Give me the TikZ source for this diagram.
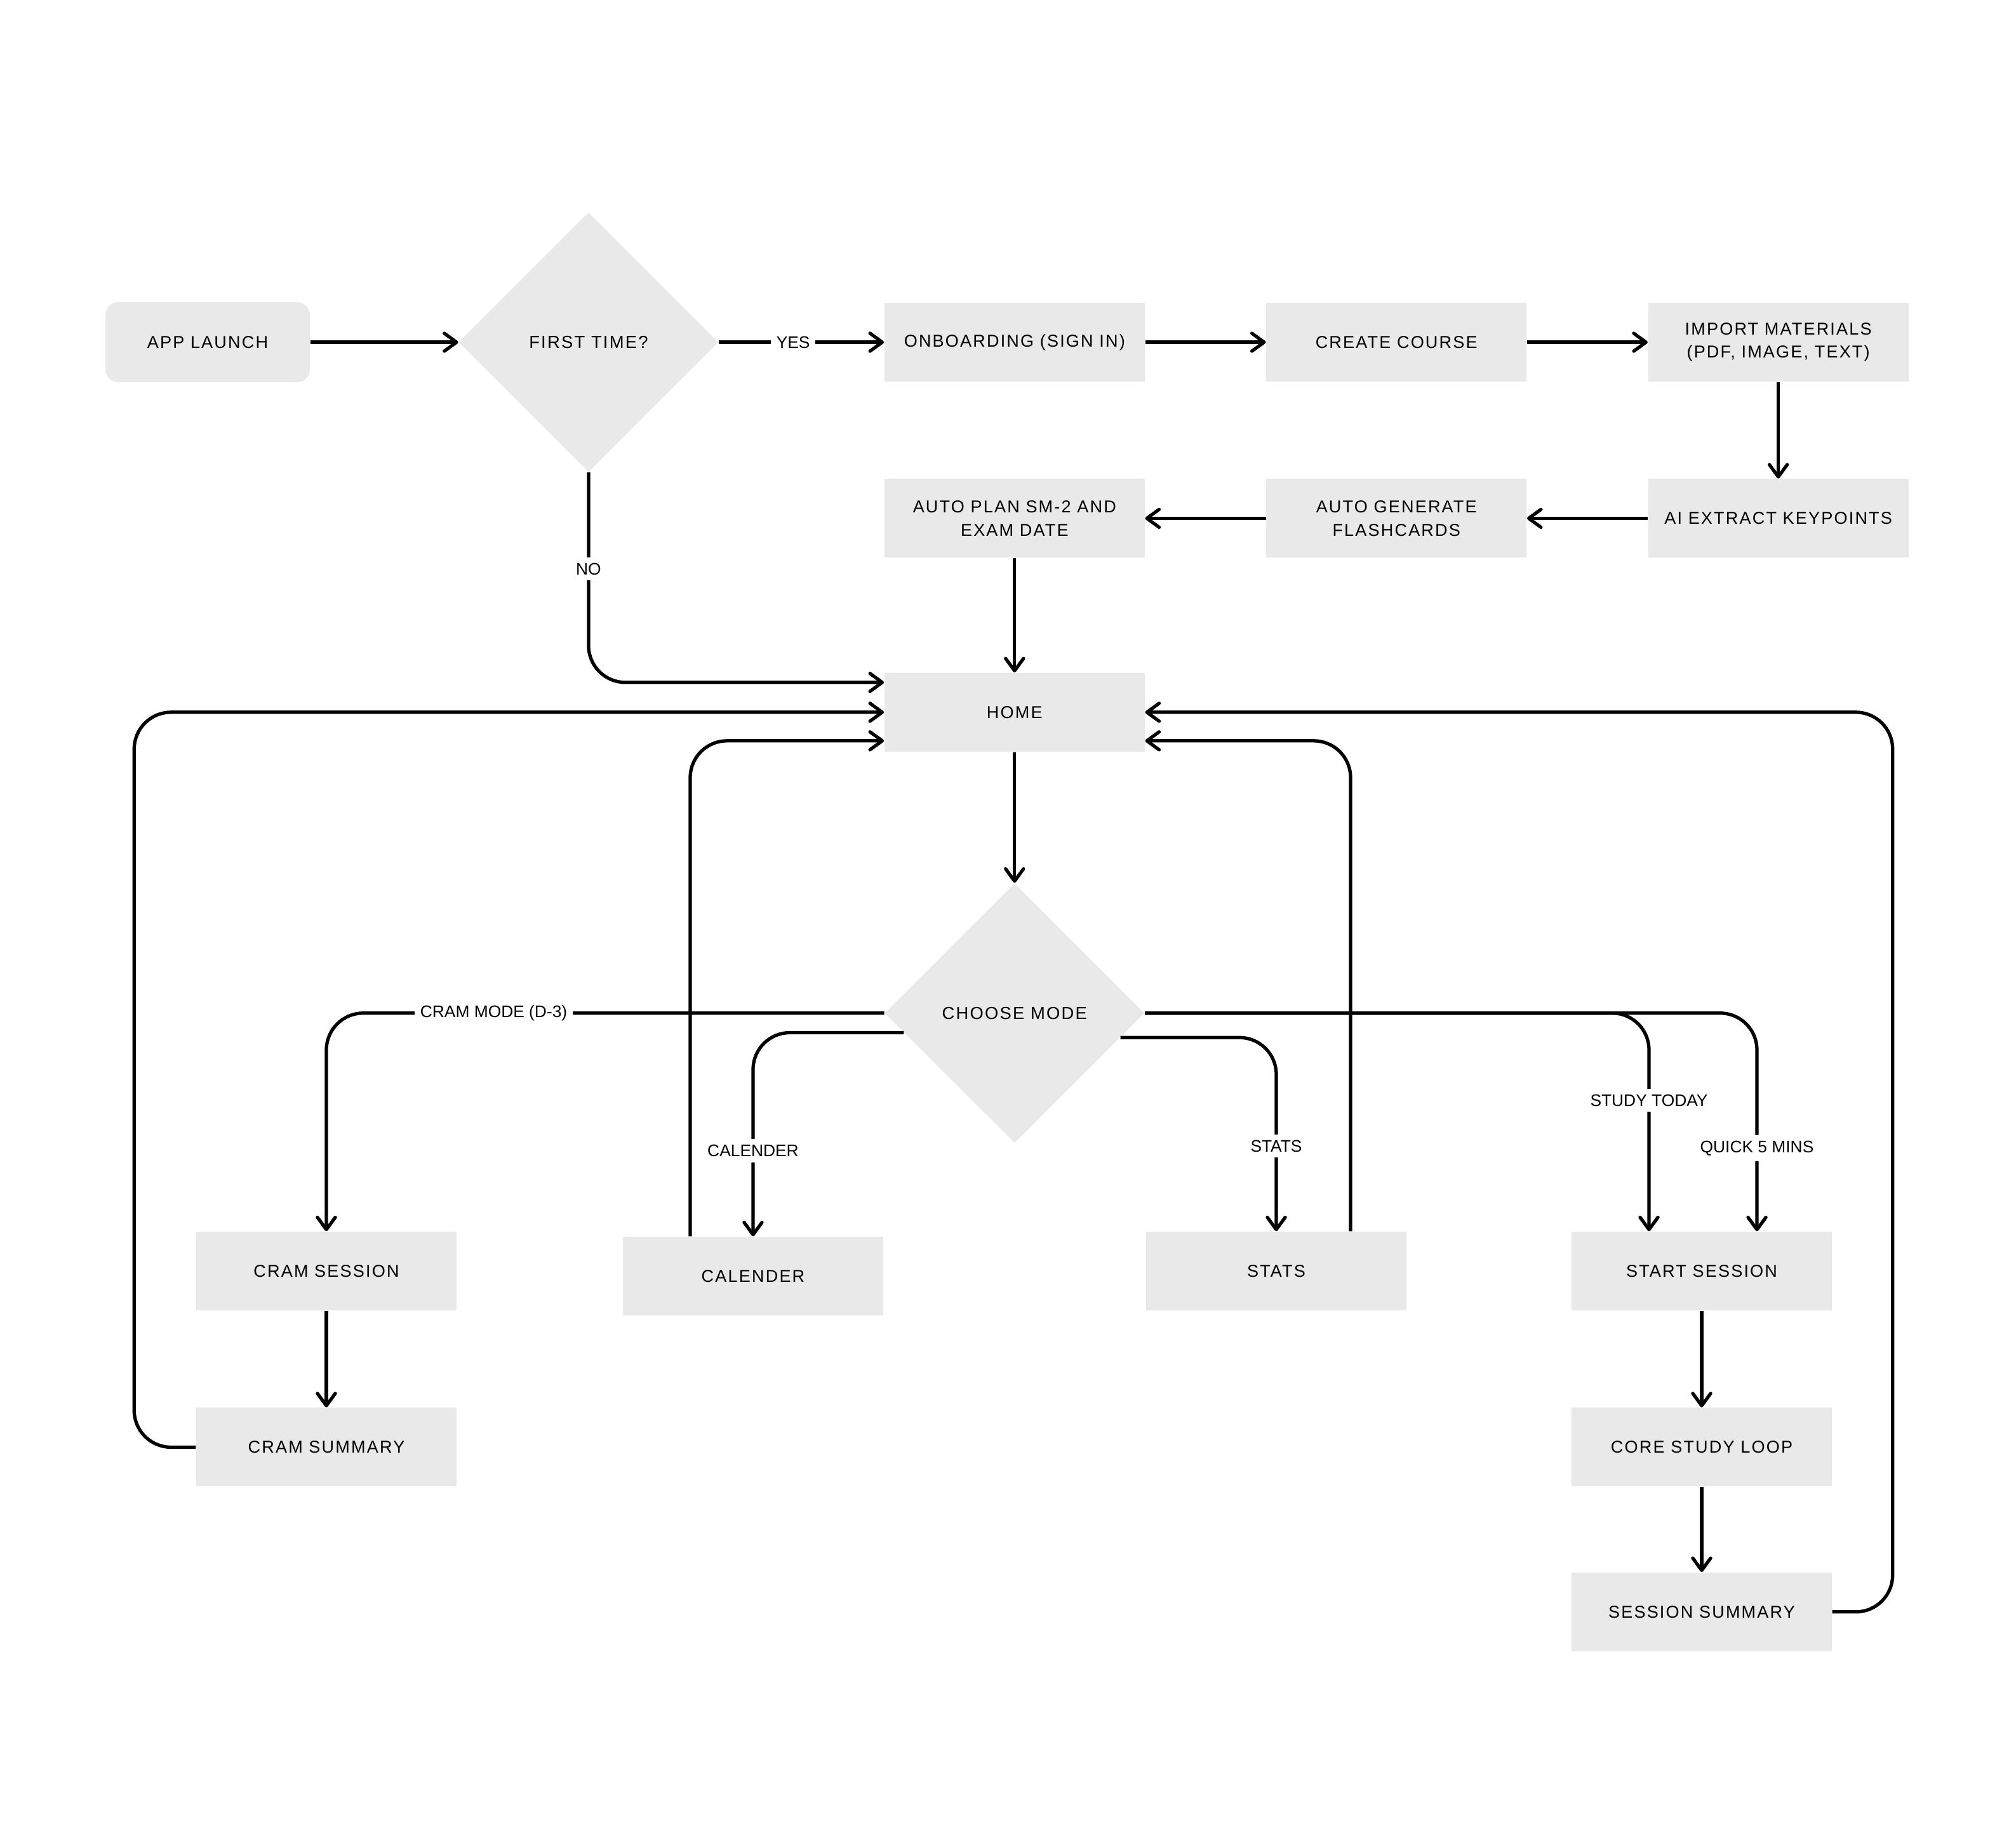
\documentclass[tikz,border=0pt]{standalone}
\usepackage{fontspec}
\setmainfont{Liberation Sans}
\newfontfamily\boxfont[LetterSpace=8]{Liberation Sans}
\usepackage{tikz}
\usetikzlibrary{positioning,shapes.geometric,arrows.meta}
\usepackage{xcolor}
\definecolor{BoxGrey}{HTML}{E9E9E9}

\begin{document}
\begin{tikzpicture}[
				box/.style={fill=BoxGrey, minimum width=4.1cm, minimum height=1.24cm,
					align=center, inner sep=2pt, font=\boxfont\fontsize{7.7pt}{10.4pt}\selectfont},
				startbox/.style={box, rounded corners=0.2cm, minimum width=3.22cm, minimum height=1.26cm},
				decision/.style={diamond, aspect=1, fill=BoxGrey, inner sep=0pt,
					minimum width=4.09cm, minimum height=4.09cm,
					font=\boxfont\fontsize{7.8pt}{10.4pt}\selectfont},
				lbl/.style={fill=white, sharp corners, inner sep=2.5pt, font=\fontsize{7.5pt}{9pt}\selectfont},
				arrow/.style={-{Straight Barb[length=5.5pt,width=8pt,round]}, line width=1.5pt, rounded corners=0.58cm}
				]
				\useasboundingbox (0,0) rectangle (31.75,-28.94);
				\node[startbox] at (3.27,-5.39) (launch) {APP LAUNCH};
				\node[decision, right=2.33cm of launch] (first) {FIRST TIME?};
				\node[box, right=2.60cm of first] (onboard) {ONBOARDING (SIGN IN)};
				\node[box, right=1.90cm of onboard] (course) {CREATE COURSE};
				\node[box, right=1.90cm of course] (import) {IMPORT MATERIALS\\(PDF, IMAGE, TEXT)};
				\node[box, below=1.52cm of import] (extract) {AI EXTRACT KEYPOINTS};
				\node[box, left=1.90cm of extract] (flash) {AUTO GENERATE\\FLASHCARDS};
				\node[box, left=1.90cm of flash] (plan) {AUTO PLAN SM-2 AND\\EXAM DATE};
				\node[box, below=1.80cm of plan] (home) {HOME};
				\node[decision, below=2.06cm of home] (choose) {CHOOSE MODE};
				\node[box] at (5.14,-20.02) (cramsess) {CRAM SESSION};
				\node[box] at (11.86,-20.10) (calender) {CALENDER};
				\node[box] at (20.10,-20.02) (stats) {STATS};
				\node[box] at (26.80,-20.02) (start) {START SESSION};
				\node[box, below=1.52cm of cramsess] (cramsum) {CRAM SUMMARY};
				\node[box, below=1.52cm of start] (core) {CORE STUDY LOOP};
				\node[box, below=1.34cm of core] (sesssum) {SESSION SUMMARY};
				\draw[arrow] (launch) -- (first);
				\draw[arrow] (first) -- node[lbl, pos=0.45] {YES} (onboard);
				\draw[arrow] (onboard) -- (course);
				\draw[arrow] (course) -- (import);
				\draw[arrow] (import) -- (extract);
				\draw[arrow] (extract) -- (flash);
				\draw[arrow] (flash) -- (plan);
				\draw[arrow] (plan) -- (home);
				\draw[arrow] (first.south) |- node[lbl, pos=0.23] {NO} ([yshift=0.47cm]home.west);
				\draw[arrow] (home) -- (choose);
				\draw[arrow] (choose.west) -| node[lbl, pos=0.35] {CRAM MODE (D-3)} (cramsess);
				\draw[arrow] (choose.190) -| node[lbl, pos=0.79] {CALENDER} (calender);
				\draw[arrow] (choose.-13) -| node[lbl, pos=0.78] {STATS} (stats);
				\draw[arrow] (choose.east) -| node[lbl, pos=0.70] {STUDY TODAY} ([xshift=-0.83cm]start.north);
				\draw[arrow] (choose.east) -| node[lbl, pos=0.81] {QUICK 5 MINS} ([xshift=0.87cm]start.north);
				\draw[arrow] (cramsess) -- (cramsum);
				\draw[arrow] (start) -- (core);
				\draw[arrow] (core) -- (sesssum);
				\draw[arrow] (cramsum.west) -- ++(-0.97,0) |- (home.west);
				\draw[arrow] ([xshift=-0.99cm]calender.north) |- ([yshift=-0.45cm]home.west);
				\draw[arrow] ([xshift=1.17cm]stats.north) |- ([yshift=-0.45cm]home.east);
				\draw[arrow] (sesssum.east) -- ++(0.95,0) |- (home.east);
			\end{tikzpicture}
\end{document}
